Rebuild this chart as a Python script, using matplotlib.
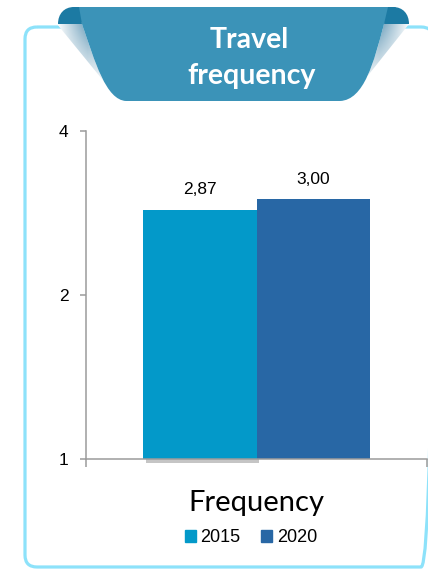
import numpy as np
import matplotlib
matplotlib.use("Agg")
import matplotlib.pyplot as plt
import matplotlib.patheffects as pe
from matplotlib.patches import FancyBboxPatch, PathPatch, Patch
from matplotlib.path import Path

plt.rcParams['font.family'] = ['Liberation Sans', 'DejaVu Sans']

# data
category = 'Frequency'
years = ['2015', '2020']
values = [2.87, 3.00]
bar_colors = ['#0399c9', '#2867a5']
title_lines = ['Travel', 'frequency']

fig = plt.figure(figsize=(4.28, 5.69), dpi=100)

# decoration layer in pixel units (y pointing down)
deco = fig.add_axes([0, 0, 1, 1])
deco.set_xlim(0, 428)
deco.set_ylim(569, 0)
deco.axis('off')

# rounded frame (right side runs just past the edge)
frame = FancyBboxPatch((25, 27), 408, 540, boxstyle="round,pad=0,rounding_size=12",
                       ec='#8de2fa', fc='none', lw=2.3, zorder=1)
deco.add_patch(frame)

# ribbon body with curved sides
L = Path.LINETO
C = Path.CURVE4
body_verts = [(74, 7), (396, 7), (384, 24),
              (374, 62), (364, 100), (340, 101),
              (126, 101),
              (106, 100), (95, 62), (82, 24),
              (74, 7)]
body_codes = [Path.MOVETO, L, L, C, C, C, L, C, C, C, Path.CLOSEPOLY]
deco.add_patch(PathPatch(Path(body_verts, body_codes), fc='#3b93b8', ec='none', zorder=4))


def bez(p0, p1, p2, p3, t):
    t = np.asarray(t)[:, None]
    return ((1 - t) ** 3 * np.array(p0) + 3 * (1 - t) ** 2 * t * np.array(p1)
            + 3 * (1 - t) * t ** 2 * np.array(p2) + t ** 3 * np.array(p3))


# folded-under shading at both sides
ts = np.linspace(0, 0.85, 30)
left_edge = bez((82, 24), (95, 62), (106, 100), (126, 101), ts)
right_edge = bez((384, 24), (374, 62), (364, 100), (340, 101), ts)
yy, xx = np.mgrid[0:110, 0:428]
for edge, x0, sign in [(left_edge, 57, 1), (right_edge, 409, -1)]:
    verts = np.vstack([[x0, 24], edge, [x0, 24]])
    deco.add_patch(PathPatch(Path(verts), fc='white', ec='none', zorder=3))
    fade_y = np.clip(1 - (yy - 24) / 72.0, 0, 1) ** 1.4
    fade_x = np.clip(sign * (xx - x0) / 30.0, 0, 1)
    rgba = np.zeros((110, 428, 4))
    rgba[..., :3] = np.array([0.36, 0.58, 0.70])
    rgba[..., 3] = fade_y * fade_x * 0.9
    im = deco.imshow(rgba, extent=(0, 428, 110, 0), zorder=3.5, interpolation='bilinear')
    im.set_clip_path(PathPatch(Path(verts), transform=deco.transData))
deco.set_xlim(0, 428)
deco.set_ylim(569, 0)
deco.set_aspect('auto')

# darker curls at the top corners
curl_l = Path([(58, 24), (58, 14), (64, 7), (74, 7), (79, 7), (82, 24), (58, 24)],
              [Path.MOVETO, C, C, C, L, L, Path.CLOSEPOLY])
curl_r = Path([(409, 24), (409, 14), (403, 7), (393, 7), (388, 7), (384, 24), (409, 24)],
              [Path.MOVETO, C, C, C, L, L, Path.CLOSEPOLY])
for p in (curl_l, curl_r):
    deco.add_patch(PathPatch(p, fc='#1c7aa3', ec='none', zorder=5))

deco.text(249, 48, title_lines[0], ha='center', va='baseline', color='white',
          fontsize=20.5, fontweight='bold', family='Lato', zorder=6)
deco.text(252, 84, title_lines[1], ha='center', va='baseline', color='white',
          fontsize=20.5, fontweight='bold', family='Lato', zorder=6)

# chart
ax = fig.add_axes([86 / 428, 1 - 459 / 569, 341 / 428, 328 / 569])
ax.patch.set_alpha(0)
ax.set_yscale('log', base=2)
ax.set_ylim(1, 4)
ax.set_xlim(-1, 2)

x = np.array([0.0, 1.0])
for i, (xi, v, c, yr) in enumerate(zip(x, values, bar_colors, years)):
    bars = ax.bar(xi, v - 1, bottom=1, width=1.0, color=c, label=yr, zorder=2 + i)
    if i == 0:
        bars[0].set_clip_on(False)
        bars[0].set_path_effects([pe.SimplePatchShadow(offset=(2, -3), shadow_rgbFace='#808080',
                                                       alpha=0.45), pe.Normal()])
    ax.annotate(f"{v:.2f}".replace('.', ','), (xi, v), xytext=(0, 9),
                textcoords='offset points', ha='center', va='bottom', fontsize=12.5)

ax.set_yticks([1, 2, 4])
ax.set_yticklabels(['1', '2', '4'])
ax.minorticks_off()
ax.tick_params(axis='y', direction='out', length=4.5, width=1.1, color='#9b9b9b',
               labelsize=12.5, pad=8)

ax.set_xticks([-1, 2])
ax.set_xticklabels(['', ''])
ax.tick_params(axis='x', direction='out', length=6, width=1.1, color='#9b9b9b')
ax.set_xticks([0.5], [category], minor=True)
ax.tick_params(axis='x', which='minor', length=0, pad=22, labelsize=21)
for lab in ax.get_xticklabels(minor=True):
    lab.set_family('Lato')

for s in ('top', 'right'):
    ax.spines[s].set_visible(False)
for s in ('left', 'bottom'):
    ax.spines[s].set_color('#9b9b9b')
    ax.spines[s].set_linewidth(1.1)
    ax.spines[s].set_zorder(5)

handles = [Patch(color=c, label=yr) for c, yr in zip(bar_colors, years)]
fig.legend(handles=handles, loc='center', bbox_to_anchor=(251 / 428, 1 - 538 / 569),
           ncol=2, frameon=False, fontsize=13, handlelength=0.6, handleheight=0.6,
           handletextpad=0.25, columnspacing=1.15)

fig.savefig('out.png', dpi=100)
